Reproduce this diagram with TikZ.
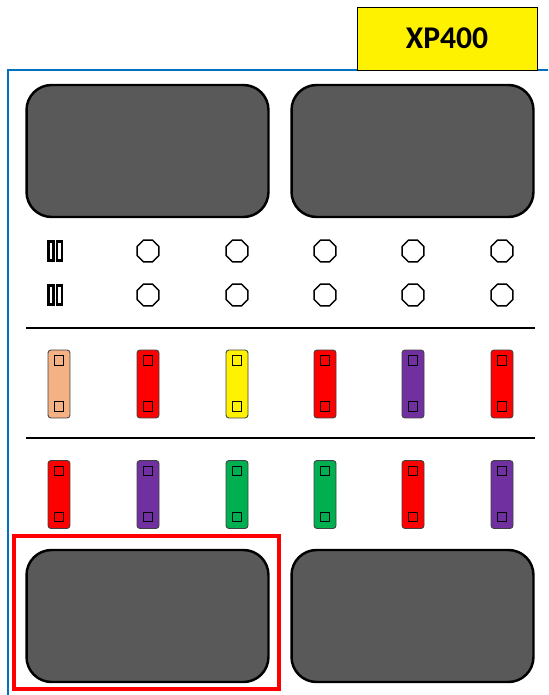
\documentclass[tikz,border=0pt]{standalone}
\usepackage{fontspec}
\newfontfamily\labelfont{Carlito}
\definecolor{panelblue}{RGB}{0,112,192}
\definecolor{screengray}{RGB}{89,89,89}
\definecolor{peach}{RGB}{244,177,131}
\definecolor{knobpurple}{RGB}{112,48,160}
\definecolor{knobgreen}{RGB}{0,176,80}
\usetikzlibrary{calc,positioning,shapes.geometric}

\begin{document}
\begin{tikzpicture}[x=0.02cm, y=-0.02cm,
  screen/.style={draw=black, line width=1.4pt, fill=screengray, rounded corners=0.5cm, minimum width=4.84cm, minimum height=2.64cm},
  btn/.style={draw=black, line width=0.8pt, regular polygon, regular polygon sides=8, minimum size=0.47cm, inner sep=0pt},
  bar/.style={draw=black, line width=1.4pt, minimum width=0.1cm, minimum height=0.38cm, inner sep=0pt},
  slider/.style={draw=black!75, line width=0.5pt, rounded corners=0.06cm, minimum width=0.44cm, minimum height=1.36cm, inner sep=0pt},
  pad/.style={draw=black, line width=0.5pt, minimum size=0.19cm, inner sep=0pt}]

\clip (0,0) rectangle (548,695);

% panel outline and label
\draw[panelblue, line width=1.6pt] (8,70) rectangle (600,760);
\node[draw=black, fill=yellow, line width=0.5pt, minimum width=3.6cm, minimum height=1.26cm, font=\labelfont\bfseries\fontsize{18}{20}\selectfont] (model) at (447,38.5) {XP400};

% screens
\node[screen] (scrTL) at (147.5,151) {};
\node[screen] (scrTR) at (412.5,151) {};
\node[screen] (scrBL) at (147.5,616) {};
\node[screen] (scrBR) at (412.5,616) {};
\draw[red, line width=2.3pt] (14,536) rectangle (279,689);

% buttons
\foreach \yy [count=\r] in {251,295}{
  \node[bar] (barA\r) at (51,\yy) {};
  \node[bar, right=0.02cm of barA\r] (barB\r) {};
  \foreach \xx [count=\i] in {148,237,325,413,502}
    \node[btn] (btn\r\i) at (\xx,\yy) {};
}

% separators
\coordinate (sepAl) at (26,328);
\coordinate (sepAr) at (535,328);
\coordinate (sepBl) at (26,438);
\coordinate (sepBr) at (535,438);
\draw[line width=1.7pt] (sepAl) -- (sepAr);
\draw[line width=1.7pt] (sepBl) -- (sepBr);

% sliders
\foreach \xx/\col [count=\i] in {59/peach,148/red,237/yellow,325/red,413/knobpurple,502/red}{
  \node[slider, fill=\col] (upper\i) at (\xx,384) {};
  \node[pad] at ([yshift=0.47cm]upper\i.center) {};
  \node[pad] at ([yshift=-0.45cm]upper\i.center) {};
}
\foreach \xx/\col [count=\i] in {59/red,148/knobpurple,237/knobgreen,325/knobgreen,413/red,502/knobpurple}{
  \node[slider, fill=\col] (lower\i) at (\xx,494.5) {};
  \node[pad] at ([yshift=0.47cm]lower\i.center) {};
  \node[pad] at ([yshift=-0.45cm]lower\i.center) {};
}

\end{tikzpicture}
\end{document}
